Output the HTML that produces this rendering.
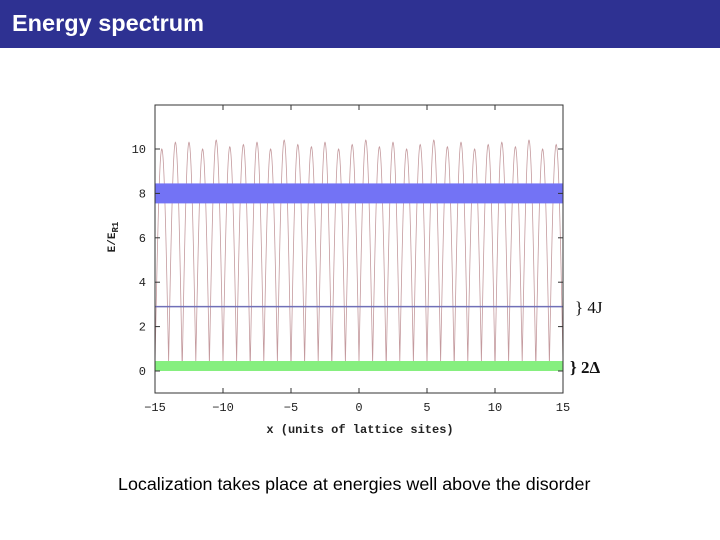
<!DOCTYPE html>
<html><head><meta charset="utf-8"><style>
body{margin:0;width:720px;height:540px;background:#fff;overflow:hidden;position:relative;font-family:"Liberation Sans",sans-serif}
#bar{position:absolute;left:0;top:0;width:720px;height:48px;background:#2e3192}
#title{position:absolute;left:12px;top:10px;color:#fff;font-weight:bold;font-size:23.5px}
#cap{position:absolute;left:118px;top:474px;font-size:17.9px;color:#000}
</style></head><body>
<div id="bar"></div>
<div id="title">Energy spectrum</div>
<svg id="chart" width="720" height="540" style="position:absolute;left:0;top:0"></svg>
<div id="cap">Localization takes place at energies well above the disorder</div>
<script>
const xTicks=[-15,-10,-5,0,5,10,15];
const yTicks=[0,2,4,6,8,10];
const sites=[-15,-14,-13,-12,-11,-10,-9,-8,-7,-6,-5,-4,-3,-2,-1,0,1,2,3,4,5,6,7,8,9,10,11,12,13,14,15];
const minima=[0.3,0.4,0.05,0.4,0.3,0.35,0.4,0.05,0.35,0.4,0.05,0.3,0.4,0.1,0.35,0.4,0.3,0.05,0.4,0.35,0.3,0.4,0.1,0.35,0.4,0.05,0.35,0.4,0.05,0.3,0.35];
const maxima=[10.0,10.3,10.3,10.0,10.4,10.1,10.2,10.3,10.0,10.4,10.2,10.1,10.3,10.0,10.2,10.4,10.1,10.3,10.0,10.2,10.4,10.1,10.3,10.0,10.2,10.3,10.1,10.4,10.0,10.2];
const blueBand=[7.55,8.45];
const greenBand=[0,0.45];
const levelLine=2.9;
const X0=155,X1=563,YT=105,YB=393;
const sx=v=>X0+(v+15)/30*(X1-X0);
const sy=v=>371-v*22.2;
const svg=document.getElementById('chart');
const NS='http://www.w3.org/2000/svg';
function mk(t,a){const e=document.createElementNS(NS,t);for(const k in a)e.setAttribute(k,a[k]);svg.appendChild(e);return e;}
let e;
let d='';
for(let i=0;i<sites.length-1;i++){
  for(let k=0;k<=40;k++){
    const t=k/40, x=sites[i]+t;
    const lo=t<0.5?minima[i]:minima[i+1];
    const s=Math.abs(Math.sin(Math.PI*t));
    const v=lo+(maxima[i]-lo)*s;
    d+=(d?'L':'M')+sx(x).toFixed(2)+','+sy(v).toFixed(2);
  }
}
e=mk('path',{d:d,fill:'none',stroke:'#c49a9e','stroke-width':0.8});


e=mk('rect',{x:X0,y:sy(blueBand[1]),width:X1-X0,height:sy(blueBand[0])-sy(blueBand[1]),fill:'#7373f5'});


e=mk('rect',{x:X0,y:sy(greenBand[1]),width:X1-X0,height:sy(greenBand[0])-sy(greenBand[1]),fill:'#86ef7f'});


e=mk('line',{x1:X0,x2:X1,y1:sy(levelLine),y2:sy(levelLine),stroke:'#7070b8','stroke-width':1.5});


e=mk('rect',{x:X0,y:YT,width:X1-X0,height:YB-YT,fill:'none',stroke:'#333','stroke-width':1});


xTicks.forEach(v=>{
  e=mk('line',{x1:sx(v),x2:sx(v),y1:YB,y2:YB-5,stroke:'#333'});
  
  
  e=mk('line',{x1:sx(v),x2:sx(v),y1:YT,y2:YT+5,stroke:'#333'});
  
  
  e=mk('text',{x:sx(v),y:411,'text-anchor':'middle','font-family':'Liberation Mono, monospace','font-size':12,fill:'#222'});
  e.textContent=(v<0?'\u2212'+(-v):v);
  
  
});
yTicks.forEach(v=>{
  e=mk('line',{x1:X0,x2:X0+5,y1:sy(v),y2:sy(v),stroke:'#333'});
  
  
  e=mk('line',{x1:X1,x2:X1-5,y1:sy(v),y2:sy(v),stroke:'#333'});
  
  
  e=mk('text',{x:146,y:sy(v)+4,'text-anchor':'end','font-family':'Liberation Mono, monospace','font-size':12,fill:'#222'});
  e.textContent=v;
  
  
});
e=mk('text',{x:360,y:433,'text-anchor':'middle','font-family':'Liberation Mono, monospace','font-size':12,'font-weight':'bold',fill:'#222'});
e.textContent='x (units of lattice sites)';


e=mk('text',{x:0,y:0,'text-anchor':'middle','font-family':'Liberation Mono, monospace','font-size':11,'font-weight':'bold',fill:'#222',transform:'translate(115,237) rotate(-90)'});
e.innerHTML='E/E<tspan dy="3" font-size="9">R1</tspan>';


e=mk('text',{x:575,y:313,'font-family':'Liberation Serif, serif','font-size':17,fill:'#111'});
e.textContent='} 4J';


e=mk('text',{x:570,y:373,'font-family':'Liberation Serif, serif','font-size':17,'font-weight':'bold',fill:'#111'});
e.textContent='} 2\u0394';


</script>
</body></html>
